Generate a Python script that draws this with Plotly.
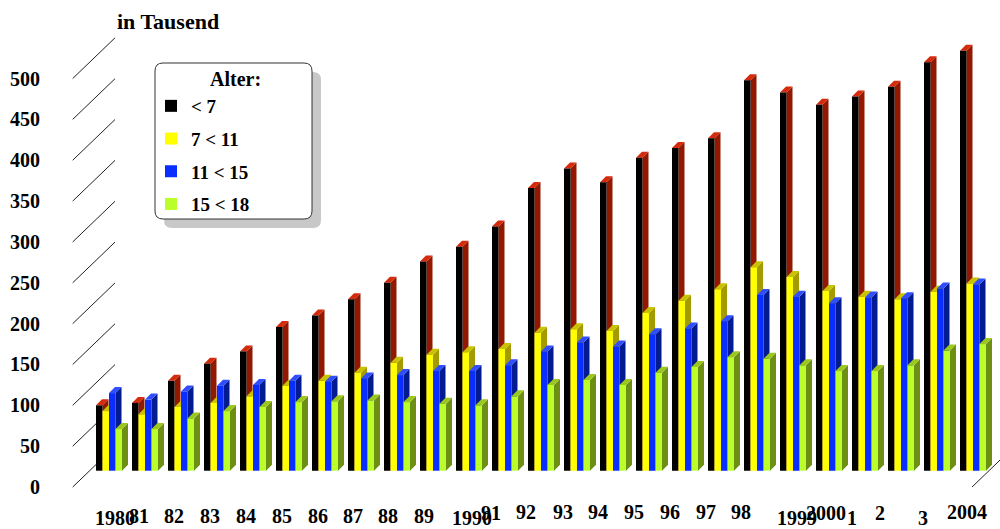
import plotly.graph_objects as go

# Kinder nach Altersgruppen, in Tausend
years = list(range(1980, 2005))
year_labels = ["1980", "81", "82", "83", "84", "85", "86", "87", "88", "89",
               "1990", "91", "92", "93", "94", "95", "96", "97", "98",
               "1999", "2000", "1", "2", "3", "2004"]

unter_7 = [80, 83, 110, 131, 146, 176, 190, 210, 230, 256, 274, 299, 346,
           370, 353, 383, 395, 407, 478, 463, 448, 458, 470, 500, 514]
von_7_bis_11 = [73, 69, 78, 83, 91, 104, 110, 120, 132, 142, 145, 149, 169,
                173, 171, 193, 208, 222, 249, 237, 220, 213, 210, 219, 229]
von_11_bis_15 = [95, 87, 97, 104, 105, 110, 109, 113, 117, 122, 122, 129, 146,
                 157, 152, 167, 174, 183, 215, 213, 205, 212, 211, 223, 228]
von_15_bis_18 = [51, 51, 64, 73, 78, 84, 85, 86, 84, 82, 80, 91, 105,
                 111, 105, 120, 127, 139, 137, 129, 122, 122, 129, 147, 155]

series_names = ["< 7", "7 < 11", "11 < 15", "15 < 18"]
series_values = [unter_7, von_7_bis_11, von_11_bis_15, von_15_bis_18]

y_ticks = [0, 50, 100, 150, 200, 250, 300, 350, 400, 450, 500]

# --- styling / fake 3d geometry (pixels converted to axis units) ---
PX_X = 36.0          # pixels per year
PX_Y = 0.817         # pixels per unit (Tausend)
W = 6.5 / PX_X       # front width of one bar
DX = 6 / PX_X        # depth offset x
DY = 6 / PX_Y        # depth offset y
FRONT_SHIFT = -20    # axis labels sit on the front edge of the floor
GRID_DX = 42.3 / PX_X
GRID_DY = 40.7 / PX_Y
GRID_X0 = (72.7 - 96) / PX_X
FLOOR_RIGHT = (972 - 96) / PX_X

front_cols = ["#000000", "#FFFF00", "#0A2EFF", "#BBFF2A"]
side_cols = ["#921800", "#A39C00", "#031B92", "#6C8F14"]
top_cols = ["#D62A0C", "#C9C200", "#2E4EFF", "#9CC81E"]

# label placement tweaks (pixel offset from group left, pixel row)
label_dx = [19, 7, 6, 6, 6, 6, 6, 5, 4, 4, 16, -1, -2, -1, -2, -2, -2, -2, -3,
            17, 10, 0, -8, -1, 7]
label_row = [518, 516, 516, 516, 516, 516, 516, 516, 516, 516, 518, 513, 512,
             512, 512, 512, 512, 512, 512, 518, 513, 518, 513, 518, 512]

FONT = "Liberation Serif"
H = 529
L_MARGIN = 48

fig = go.Figure()
shapes = []

# diagonal value lines on the side wall
for t in y_ticks:
    shapes.append(dict(type="line", xref="x", yref="y", layer="below",
                       x0=GRID_X0, y0=t + FRONT_SHIFT,
                       x1=GRID_X0 + GRID_DX, y1=t + FRONT_SHIFT + GRID_DY,
                       line=dict(color="#222222", width=1)))
shapes.append(dict(type="line", xref="x", yref="y", layer="below",
                   x0=FLOOR_RIGHT, y0=FRONT_SHIFT,
                   x1=FLOOR_RIGHT + GRID_DX, y1=FRONT_SHIFT + GRID_DY,
                   line=dict(color="#222222", width=1)))

idx = list(range(len(years)))

for i in idx:
    for k, vals in enumerate(series_values):
        v = vals[i]
        l = i + k * W
        r = l + W
        side = (f"M{r},0 L{r + DX},{DY} L{r + DX},{v + DY} L{r},{v} Z")
        top = (f"M{l},{v} L{l + DX},{v + DY} L{r + DX},{v + DY} L{r},{v} Z")
        shapes.append(dict(type="path", path=side, xref="x", yref="y",
                           layer="below", fillcolor=side_cols[k],
                           line=dict(width=0)))
        shapes.append(dict(type="path", path=top, xref="x", yref="y",
                           layer="below", fillcolor=top_cols[k],
                           line=dict(width=0)))

for k, vals in enumerate(series_values):
    fig.add_trace(go.Bar(
        x=idx, y=vals, width=W, offset=k * W,
        name=f"<b>{series_names[k]}</b>", legendgroup=series_names[k],
        marker=dict(color=front_cols[k], line=dict(width=0)),
        hoverinfo="skip",
    ))


def px2paper(px, py):
    return (px - L_MARGIN) / (1000 - L_MARGIN), 1 - py / H


def rounded(x0, y0, x1, y1, rad):
    # rounded rectangle path in paper coords, corners given in pixels
    pts = []
    rx = rad / (1000 - L_MARGIN)
    ry = rad / H
    a, b = px2paper(x0, y0)
    c, d = px2paper(x1, y1)
    pts.append(f"M{a + rx},{b}")
    pts.append(f"L{c - rx},{b} Q{c},{b} {c},{b - ry}")
    pts.append(f"L{c},{d + ry} Q{c},{d} {c - rx},{d}")
    pts.append(f"L{a + rx},{d} Q{a},{d} {a},{d + ry}")
    pts.append(f"L{a},{b - ry} Q{a},{b} {a + rx},{b} Z")
    return " ".join(pts)


# legend frame with shadow
shapes.append(dict(type="path", xref="paper", yref="paper", layer="below",
                   path=rounded(164, 72, 321, 228, 8),
                   fillcolor="#C8C8C8", line=dict(width=0)))
shapes.append(dict(type="path", xref="paper", yref="paper", layer="below",
                   path=rounded(155, 63, 312, 219, 8),
                   fillcolor="white", line=dict(color="#333333", width=1)))

annotations = [
    dict(text="<b>in Tausend</b>", xref="paper", yref="paper",
         x=px2paper(168, 0)[0], y=1 - 21 / H, showarrow=False,
         xanchor="center", yanchor="middle",
         font=dict(family=FONT, size=22, color="black")),
    dict(text="<b>Alter:</b>", xref="paper", yref="paper",
         x=px2paper(235, 0)[0], y=1 - 79 / H, showarrow=False,
         xanchor="center", yanchor="middle",
         font=dict(family=FONT, size=20, color="black")),
]
for i, lab in enumerate(year_labels):
    annotations.append(dict(
        text=f"<b>{lab}</b>", xref="x", yref="paper",
        x=i + label_dx[i] / PX_X, y=1 - label_row[i] / H,
        showarrow=False, xanchor="center", yanchor="middle",
        font=dict(family=FONT, size=20, color="black")))

lx, ly = px2paper(151, 87)

fig.update_layout(
    width=1000, height=H,
    margin=dict(l=L_MARGIN, r=0, t=0, b=0),
    paper_bgcolor="white", plot_bgcolor="white",
    barmode="overlay",
    shapes=shapes,
    annotations=annotations,
    showlegend=True,
    legend=dict(x=lx, y=ly, xanchor="left", yanchor="top",
                bgcolor="rgba(0,0,0,0)", borderwidth=0,
                tracegroupgap=5,
                font=dict(family=FONT, size=19, color="black")),
    xaxis=dict(range=[(L_MARGIN - 96) / PX_X, (1000 - 96) / PX_X],
               showgrid=False, zeroline=False, showline=False,
               showticklabels=False, ticks=""),
    yaxis=dict(range=[(470.7 - H) / PX_Y, 470.7 / PX_Y],
               showgrid=False, zeroline=False, showline=False,
               tickvals=[t + FRONT_SHIFT for t in y_ticks],
               ticktext=[f"<b>{t}</b>" for t in y_ticks],
               ticks="outside", ticklen=3, tickcolor="rgba(0,0,0,0)",
               tickfont=dict(family=FONT, size=20, color="black")),
)

fig.write_html("out.html", config={"displayModeBar": False},
               post_script="document.body.style.margin='0';")
